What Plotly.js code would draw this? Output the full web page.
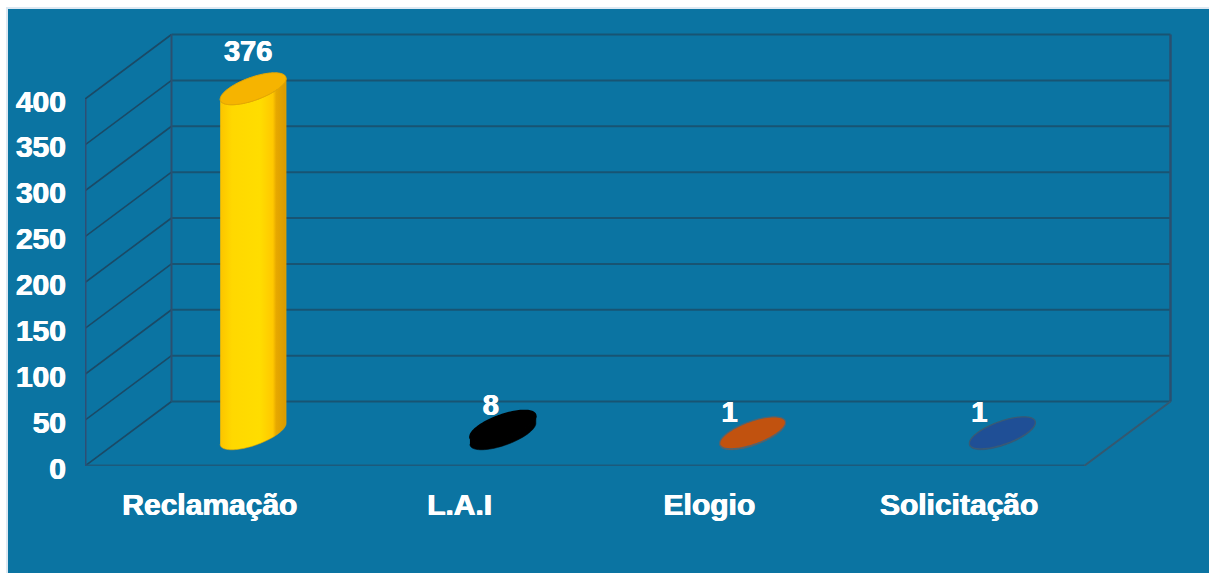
<!DOCTYPE html>
<html>
<head>
<meta charset="utf-8">
<script src="https://cdn.plot.ly/plotly-3.0.1.min.js"></script>
<style>html,body{margin:0;padding:0;background:#fff}#chart{width:1209px;height:573px}</style>
</head>
<body>
<div id="chart"></div>
<script>
const categories = ["Reclamação", "L.A.I", "Elogio", "Solicitação"];
const values = [376, 8, 1, 1];
const yTicks = [0, 50, 100, 150, 200, 250, 300, 350, 400];

const FONT = "'Liberation Sans', Arial, sans-serif";
const HEAVY = '0.5px 0 0 #ffffff, -0.5px 0 0 #ffffff';
const W = 1209, H = 573;
const front = {l: 85, r: 1084, t: 99, b: 466};
const plotTop = 9;
const nCat = categories.length;
const pxX = (front.r - front.l) / nCat;   // px per category
const pxY = (front.b - front.t) / 400;    // px per value unit
const depthX = 86.5, depthY = 64.5;       // wall depth in px
const DX = depthX / pxX, DY = depthY / pxY;

// 3D projection: category position, value, depth fraction (0 front, 1 back)
const P = (c, v, d) => [c + d * DX, v + d * DY];

function line(points, color, width) {
  return {type: 'scatter', mode: 'lines', x: points.map(p => p[0]), y: points.map(p => p[1]),
    line: {color, width, simplify: false}, hoverinfo: 'skip', showlegend: false};
}

const traces = [];

// walls and floor
yTicks.forEach(v => {
  traces.push(line([P(0, v, 0), P(0, v, 1)], '#1b4a66', 1.6));
  traces.push(line([P(0, v, 1), P(nCat, v, 1)], '#185473', 2));
});
traces.push(line([P(0, 0, 1), P(0, 400, 1)], '#2a5070', 2));
traces.push(line([P(nCat, 0, 1), P(nCat, 400, 1)], '#2a5070', 2.5));
traces.push(line([P(nCat, 0, 0), P(nCat, 0, 1)], '#35586f', 2));
traces.push(line([P(0, 0, 0), P(nCat, 0, 0)], '#1c5a7c', 3));
traces.push(line([P(0, 0, 0), P(0, 400, 0)], '#2e4e74', 3));

// cylinders with an elliptical cross-section
const RX = 25 / pxX, RD = 16 / depthY;
const T0 = Math.atan2(RD * depthX, RX * pxX);
function rim(cat, v, t) {
  return P(cat + 0.5 + RX * Math.cos(t), v, 0.5 + RD * Math.sin(t));
}
const styles = [
  {top: '#f6b400', edge: '#e8a800', w: 1, scale: [[0, '#fcc400'], [0.18, '#ffd800'], [0.6, '#ffdd00'], [0.8, '#ffc800'], [0.85, '#e6a800'], [1, '#d89a00']]},
  {top: '#000000', edge: '#000000', w: 1.5, scale: [[0, '#000000'], [1, '#000000']]},
  {top: '#c1520f', edge: '#4f6472', w: 1.3, scale: [[0, '#c1520f'], [1, '#a8480f']]},
  {top: '#1f4f96', edge: '#3a5a74', w: 1.3, scale: [[0, '#1f4f96'], [1, '#1f4f96']]}
];
values.forEach((v, i) => {
  const st = styles[i], N = 60, arc = [], ring = [];
  for (let k = 0; k <= N; k++) arc.push(T0 + Math.PI + Math.PI * k / N);
  for (let k = 0; k <= 2 * N; k++) ring.push(Math.PI * k / N);
  const body = arc.map(t => rim(i, 0, t)).concat(arc.slice().reverse().map(t => rim(i, v, t)));
  const b = line(body, st.edge, 0.6);
  b.fill = 'toself';
  b.fillgradient = {type: 'horizontal', colorscale: st.scale};
  traces.push(b);
  const t = line(ring.map(a => rim(i, v, a)), st.edge, st.w);
  t.fill = 'toself';
  t.fillcolor = st.top;
  traces.push(t);
});

// value labels
const labelShiftPx = [[-5, 35], [-12, 19], [-23, 18], [-23, 18]];
const centre = values.map((v, i) => P(i + 0.5, v, 0.5));
traces.push({type: 'scatter', mode: 'text',
  x: centre.map((p, i) => p[0] + labelShiftPx[i][0] / pxX),
  y: centre.map((p, i) => p[1] + labelShiftPx[i][1] / pxY),
  text: values.map(String), textposition: 'middle center',
  textfont: {family: FONT, size: 29, color: '#ffffff', weight: 700, shadow: HEAVY},
  hoverinfo: 'skip', showlegend: false});

const px2paperX = x => (x - front.l) / (W - front.l);
const px2paperY = y => (front.b - y) / (front.b - plotTop);
const rect = (x0, y0, fill) => ({type: 'rect', xref: 'paper', yref: 'paper', layer: 'below',
  x0: px2paperX(x0), x1: 1, y0: px2paperY(H), y1: px2paperY(y0),
  fillcolor: fill, line: {width: 0}});

const tickFont = {family: FONT, size: 30, color: '#ffffff', weight: 700, shadow: HEAVY};
const layout = {
  width: W, height: H, autosize: false,
  margin: {l: front.l, r: 0, t: plotTop, b: H - front.b, pad: 0},
  paper_bgcolor: '#ffffff', plot_bgcolor: 'rgba(0,0,0,0)',
  showlegend: false,
  shapes: [rect(6, 7, '#dde8f2'), rect(8, 9, '#0b74a2')],
  xaxis: {type: 'linear', range: [0, (W - front.l) / pxX], showgrid: false, zeroline: false,
    tickmode: 'array', tickvals: categories.map((c, i) => i + 0.5), ticktext: categories,
    ticks: '', tickangle: 0, tickfont: tickFont, ticklabelstandoff: 18, showline: false},
  yaxis: {type: 'linear', range: [0, (front.b - plotTop) / pxY], showgrid: false, zeroline: false,
    tickmode: 'array', tickvals: yTicks, ticktext: yTicks.map(String),
    ticks: '', tickfont: tickFont, ticklabelstandoff: 18, ticklabelshift: 2, showline: false}
};
Plotly.newPlot('chart', traces, layout, {displayModeBar: false, staticPlot: true});
</script>
</body>
</html>
